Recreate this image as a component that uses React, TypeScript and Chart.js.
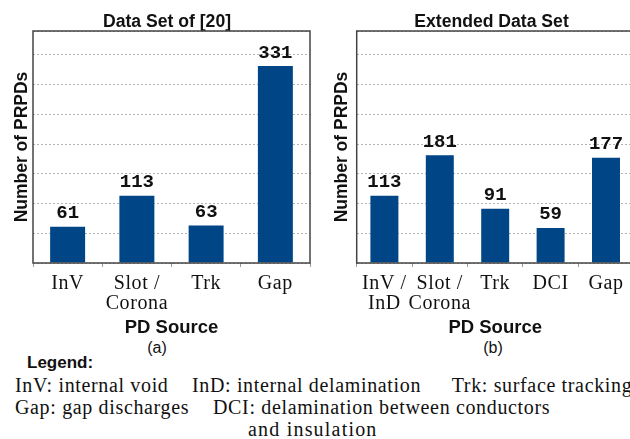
import { useEffect, useRef } from "react";
import { Chart, registerables } from "chart.js";

Chart.register(...registerables);

// ---- data ----
const datasetATitle = "Data Set of [20]";
const datasetACategories: (string | string[])[] = ["InV", ["Slot /", "Corona"], "Trk", "Gap"];
const datasetACounts = [61, 113, 63, 331];

const datasetBTitle = "Extended Data Set";
const datasetBCategories: (string | string[])[] = [["InV /", "InD"], ["Slot /", "Corona"], "Trk", "DCI", "Gap"];
const datasetBCounts = [113, 181, 91, 59, 177];

const yAxisLabel = "Number of PRPDs";
const xAxisLabel = "PD Source";
const yMax = 390;
const yStep = 50;

const legendLine1 = ["InV: internal void", "InD: internal delamination", "Trk: surface tracking"];
const legendLine2 = ["Gap: gap discharges", "DCI: delamination between conductors"];
const legendLine3 = ["and insulation"];

// ---- styles ----
const BAR = "#004586";
const INK = "#111111";
const SANS = '"Liberation Sans", Arial, sans-serif';
const SERIF = '"Liberation Serif", "Times New Roman", serif';
const MONO = '"Liberation Mono", "DejaVu Sans Mono", monospace';

// Border around the whole plot area
const plotFrame = {
  id: "plotFrame",
  afterDatasetsDraw(chart: any) {
    const { ctx, chartArea: a } = chart;
    ctx.save();
    ctx.strokeStyle = "#444444";
    ctx.lineWidth = 1.5;
    ctx.strokeRect(a.left, a.top, a.right - a.left, a.bottom - a.top);
    ctx.restore();
  },
};

// Slightly wider tracking for the category labels (drawn after the datasets, z = 1)
const categorySpacing = {
  id: "categorySpacing",
  afterDatasetsDraw(chart: any) {
    chart.ctx.letterSpacing = "0.6px";
  },
  afterDraw(chart: any) {
    chart.ctx.letterSpacing = "0px";
  },
};

// Count printed above each bar
const valueLabels = {
  id: "valueLabels",
  afterDraw(chart: any) {
    const { ctx } = chart;
    const meta = chart.getDatasetMeta(0);
    const values = chart.data.datasets[0].data as number[];
    ctx.save();
    ctx.font = `bold 19px ${MONO}`;
    ctx.fillStyle = INK;
    ctx.textAlign = "center";
    ctx.textBaseline = "alphabetic";
    meta.data.forEach((bar: any, i: number) => {
      ctx.fillText(String(values[i]), bar.x, bar.y - 8.5);
    });
    ctx.restore();
  },
};

type PanelProps = {
  title: string;
  labels: (string | string[])[];
  values: number[];
  left: number;
  padLeft: number;
  padRight: number;
  yWidth: number;
  yTitlePad: number;
};

const CANVAS_W = 320;
const CANVAS_H = 339;

function BarPanel({ title, labels, values, left, padLeft, padRight, yWidth, yTitlePad }: PanelProps) {
  const ref = useRef<HTMLCanvasElement | null>(null);

  useEffect(() => {
    if (!ref.current) return;
    const chart = new Chart(ref.current, {
      type: "bar",
      data: {
        labels,
        datasets: [
          {
            data: values,
            backgroundColor: BAR,
            borderWidth: 0,
            barPercentage: 0.505,
            categoryPercentage: 1,
          },
        ],
      },
      options: {
        responsive: false,
        animation: false,
        layout: { padding: { left: padLeft, right: padRight, top: 0, bottom: 0 } },
        plugins: {
          legend: { display: false },
          tooltip: { enabled: false },
          title: {
            display: true,
            text: title,
            color: INK,
            font: { family: SANS, size: 17.6, weight: "bold", lineHeight: 1 },
            padding: { top: 13.4, bottom: 0 },
          },
        },
        scales: {
          x: {
            grid: {
              display: true,
              drawOnChartArea: false,
              drawTicks: true,
              tickLength: 4,
              color: "#9a9a9a",
              lineWidth: 1,
              offset: true,
            },
            border: { display: false },
            ticks: {
              autoSkip: false,
              maxRotation: 0,
              minRotation: 0,
              padding: 7,
              color: INK,
              font: { family: SERIF, size: 20, lineHeight: 1 },
              z: 1,
            },
            title: {
              display: true,
              text: xAxisLabel,
              color: INK,
              font: { family: SANS, size: 18.5, weight: "bold", lineHeight: 1.2 },
              padding: 0,
            },
            afterFit: (s: any) => {
              s.height = 76;
            },
          },
          y: {
            min: 0,
            max: yMax,
            ticks: { display: false, stepSize: yStep },
            grid: { color: "#b3b3b3", lineWidth: 1, drawTicks: false, borderDash: [2, 2] } as any,
            border: { display: false, dash: [2, 2] },
            title: {
              display: true,
              text: yAxisLabel,
              color: INK,
              font: { family: SANS, size: 17.5, weight: "bold", lineHeight: 1 },
              padding: { top: yTitlePad, bottom: 0 },
            },
            afterFit: (s: any) => {
              s.width = yWidth;
            },
          },
        },
      } as any,
      plugins: [plotFrame, categorySpacing, valueLabels],
    });
    return () => chart.destroy();
  }, [title, labels, values, padLeft, padRight, yWidth, yTitlePad]);

  return (
    <canvas
      ref={ref}
      width={CANVAS_W}
      height={CANVAS_H}
      style={{ position: "absolute", left, top: 0, width: CANVAS_W, height: CANVAS_H }}
    />
  );
}

const serifText: React.CSSProperties = {
  position: "absolute",
  fontFamily: SERIF,
  fontSize: 20,
  lineHeight: "20px",
  letterSpacing: "0.65px",
  color: INK,
  whiteSpace: "nowrap",
};

const captionText: React.CSSProperties = {
  position: "absolute",
  width: 100,
  textAlign: "center",
  fontFamily: SANS,
  fontSize: 16,
  lineHeight: "16px",
  color: INK,
};

export default function App() {
  return (
    <div
      style={{
        position: "fixed",
        left: 0,
        top: 0,
        width: 630,
        height: 439,
        overflow: "hidden",
        background: "#ffffff",
      }}
    >
      <BarPanel
        title={datasetATitle}
        labels={datasetACategories}
        values={datasetACounts}
        left={0}
        padLeft={24}
        padRight={10}
        yWidth={9}
        yTitlePad={-10.2}
      />
      <BarPanel
        title={datasetBTitle}
        labels={datasetBCategories}
        values={datasetBCounts}
        left={320}
        padLeft={29.3}
        padRight={6.3}
        yWidth={7.4}
        yTitlePad={-16}
      />

      <div style={{ ...captionText, left: 107, top: 340 }}>(a)</div>
      <div style={{ ...captionText, left: 443, top: 340 }}>(b)</div>

      <div
        style={{
          position: "absolute",
          left: 27,
          top: 353.6,
          fontFamily: SANS,
          fontWeight: "bold",
          fontSize: 17,
          lineHeight: "17px",
          color: INK,
          whiteSpace: "nowrap",
        }}
      >
        Legend:
      </div>

      <div style={{ ...serifText, left: 15, top: 375 }}>{legendLine1[0]}</div>
      <div style={{ ...serifText, left: 192, top: 375 }}>{legendLine1[1]}</div>
      <div style={{ ...serifText, left: 451.7, top: 375 }}>{legendLine1[2]}</div>
      <div style={{ ...serifText, left: 15, top: 396.5 }}>{legendLine2[0]}</div>
      <div style={{ ...serifText, left: 213, top: 396.5 }}>{legendLine2[1]}</div>
      <div style={{ ...serifText, left: 248, top: 418.5, letterSpacing: "1.2px" }}>{legendLine3[0]}</div>
    </div>
  );
}
